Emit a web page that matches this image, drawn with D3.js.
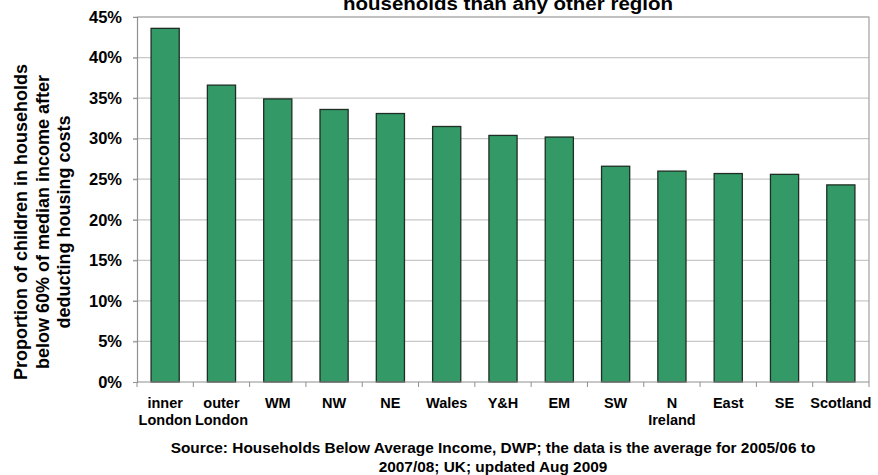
<!DOCTYPE html>
<html><head><meta charset="utf-8">
<script src="https://cdn.jsdelivr.net/npm/d3@7"></script>
<style>body{margin:0;background:#fff}svg{display:block}text{font-family:"Liberation Sans",Arial,sans-serif;font-weight:bold;fill:#000}</style>
</head><body><svg id="c" width="878" height="475"></svg>
<script>
const categories = ["inner\nLondon","outer\nLondon","WM","NW","NE","Wales","Y&H","EM","SW","N\nIreland","East","SE","Scotland"];
const values = [43.6, 36.6, 34.9, 33.6, 33.1, 31.5, 30.4, 30.2, 26.6, 26.0, 25.7, 25.6, 24.3];
const yTicks = [0,5,10,15,20,25,30,35,40,45];
const titleLines = ["households than any other region"];
const yLabelLines = ["Proportion of children in households","below 60% of median income after","deducting housing costs"];
const sourceLines = ["Source: Households Below Average Income, DWP; the data is the average for 2005/06 to","2007/08; UK; updated Aug 2009"];

const svg = d3.select("#c");
const L=137, R=869, T=17, B=382;
const x = d3.scaleBand().domain(categories).range([L,R]).paddingInner(0.5).paddingOuter(0.25);
const y = d3.scaleLinear().domain([0,45]).range([B,T]);

// gridlines
svg.append("g").selectAll("line").data(yTicks.filter(d=>d>0)).join("line")
  .attr("x1",L-4).attr("x2",R).attr("y1",d=>y(d)).attr("y2",d=>y(d))
  .attr("stroke","#c8c8c8").attr("stroke-width",1.2);
// plot border top/right
svg.append("path").attr("d",`M${L},${T}H${R}V${B}`).attr("fill","none").attr("stroke","#a0a0a0").attr("stroke-width",1.2);

// bars
svg.append("g").selectAll("rect").data(values).join("rect")
  .attr("x",(d,i)=>x(categories[i])).attr("width",x.bandwidth())
  .attr("y",d=>y(d)).attr("height",d=>B-y(d))
  .attr("fill","#339966").attr("stroke","#1e2e24").attr("stroke-width",1.3);

// y axis
const ya = svg.append("g").attr("transform",`translate(${L},0)`)
  .call(d3.axisLeft(y).tickValues(yTicks).tickFormat(d=>d+"%").tickSize(4).tickPadding(11));
ya.select(".domain").attr("stroke","#909090").attr("stroke-width",1.2);
ya.selectAll(".tick line").attr("stroke","#909090");
ya.selectAll(".tick text").attr("font-size",16.5).attr("font-family","Liberation Sans, Arial, sans-serif").attr("font-weight","bold").attr("fill","#000");

// x axis
const xa = svg.append("g").attr("transform",`translate(0,${B})`);
xa.append("line").attr("x1",L).attr("x2",R).attr("stroke","#909090").attr("stroke-width",1.2);
const bounds = d3.range(categories.length+1).map(i=>L+i*(R-L)/categories.length);
xa.selectAll("line.t").data(bounds).join("line").attr("class","t")
  .attr("x1",d=>d).attr("x2",d=>d).attr("y1",0).attr("y2",5).attr("stroke","#909090");
xa.selectAll("text.c").data(categories).join("text").attr("class","c")
  .attr("text-anchor","middle").attr("font-size",14.5)
  .each(function(d){
    const t=d3.select(this);
    d.split("\n").forEach((s,j)=>t.append("tspan").attr("x",x(d)+x.bandwidth()/2).attr("y",26+j*17).text(s));
  });

// y label
const yl = svg.append("text").attr("transform","translate(0,222) rotate(-90)").attr("text-anchor","middle").attr("font-size",18);
yLabelLines.forEach((s,j)=>yl.append("tspan").attr("x",0).attr("y",27+j*21.5).text(s));

// title
svg.selectAll("text.title").data(titleLines).join("text").attr("class","title")
  .attr("x",343).attr("y",(d,i)=>10-(titleLines.length-1-i)*20).attr("font-size",18)
  .attr("textLength",330).attr("lengthAdjust","spacingAndGlyphs").text(d=>d);

// source
svg.selectAll("text.src").data(sourceLines).join("text").attr("class","src")
  .attr("x",493).attr("y",(d,i)=>453+i*19).attr("text-anchor","middle").attr("font-size",15.4).text(d=>d);
</script></body></html>
